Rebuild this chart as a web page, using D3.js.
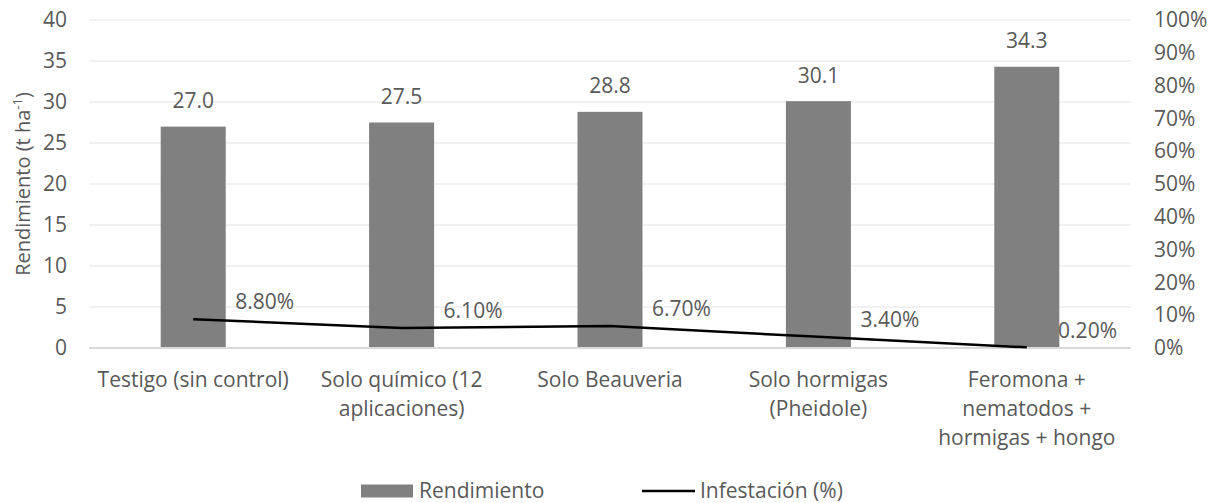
<!DOCTYPE html>
<html>
<head>
<meta charset="utf-8">
<script src="https://cdn.jsdelivr.net/npm/d3@7"></script>
<style>
  body { margin: 0; background: #fff; }
  text { font-family: "Open Sans", "Liberation Sans", sans-serif; fill: #595959; }
</style>
</head>
<body>
<svg id="main"></svg>
<script>
// data
var categories = [
  ["Testigo (sin control)"],
  ["Solo químico (12", "aplicaciones)"],
  ["Solo Beauveria"],
  ["Solo hormigas", "(Pheidole)"],
  ["Feromona +", "nematodos +", "hormigas + hongo"]
];
var rendimiento = [27.0, 27.5, 28.8, 30.1, 34.3];
var infestacion = [8.8, 6.1, 6.7, 3.4, 0.2];
var leftTicks = [0, 5, 10, 15, 20, 25, 30, 35, 40];
var rightTicks = [0, 10, 20, 30, 40, 50, 60, 70, 80, 90, 100];

var W = 1220, H = 503;
var FS = "21px";
var margin = {top: 20, right: 89, bottom: 155, left: 89},
    width = W - margin.left - margin.right,
    height = H - margin.top - margin.bottom;

var svg = d3.select("#main")
    .attr("width", W)
    .attr("height", H)
  .append("g")
    .attr("transform", "translate(" + margin.left + "," + margin.top + ")");

var x = d3.scaleBand()
    .domain(d3.range(categories.length))
    .range([0, width])
    .paddingInner(0.688)
    .paddingOuter(0.344);

var y = d3.scaleLinear().domain([0, 40]).range([height, 0]);
var y2 = d3.scaleLinear().domain([0, 100]).range([height, 0]);

// grid
svg.append("g")
  .selectAll("line")
  .data(leftTicks.filter(function(d) { return d > 0; }))
  .enter().append("line")
    .attr("x1", 0).attr("x2", width)
    .attr("y1", function(d) { return y(d); })
    .attr("y2", function(d) { return y(d); })
    .attr("stroke", "#ededed")
    .attr("stroke-width", 1.5);

// left axis
var yAxis = svg.append("g")
    .call(d3.axisLeft(y).tickValues(leftTicks).tickSize(0).tickPadding(22));
yAxis.select(".domain").remove();
yAxis.selectAll("text").style("font-size", FS).attr("fill", "#595959");

// right axis
var yAxisR = svg.append("g")
    .attr("transform", "translate(" + width + ",0)")
    .call(d3.axisRight(y2).tickValues(rightTicks).tickSize(0).tickPadding(23)
      .tickFormat(function(d) { return d + "%"; }));
yAxisR.select(".domain").remove();
yAxisR.selectAll("text").style("font-size", FS).attr("fill", "#595959");

// bars
svg.append("g")
  .selectAll("rect")
  .data(rendimiento)
  .enter().append("rect")
    .attr("x", function(d, i) { return x(i); })
    .attr("y", function(d) { return y(d); })
    .attr("width", x.bandwidth())
    .attr("height", function(d) { return height - y(d); })
    .attr("fill", "#808080");

// bar labels
svg.append("g")
  .selectAll("text")
  .data(rendimiento)
  .enter().append("text")
    .attr("x", function(d, i) { return x(i) + x.bandwidth() / 2; })
    .attr("y", function(d) { return y(d) - 26; })
    .attr("dy", "0.35em")
    .attr("text-anchor", "middle")
    .style("font-size", FS)
    .text(function(d) { return d.toFixed(1); });

// x axis line
svg.append("line")
    .attr("x1", 0).attr("x2", width)
    .attr("y1", height).attr("y2", height)
    .attr("stroke", "#d9d9d9")
    .attr("stroke-width", 2);

// category labels
var cx = function(i) { return x(i) + x.bandwidth() / 2; };
categories.forEach(function(lines, i) {
  var t = svg.append("text")
      .attr("x", cx(i))
      .attr("y", height + 32)
      .attr("text-anchor", "middle")
      .style("font-size", FS);
  lines.forEach(function(l, j) {
    t.append("tspan")
      .attr("x", cx(i))
      .attr("dy", j === 0 ? "0.35em" : 29)
      .text(l);
  });
});

// infestation line
var line = d3.line()
    .x(function(d, i) { return cx(i); })
    .y(function(d) { return y2(d); });
svg.append("path")
    .datum(infestacion)
    .attr("d", line)
    .attr("fill", "none")
    .attr("stroke", "#000")
    .attr("stroke-width", 2.5)
    .attr("stroke-linejoin", "round");

// labels sit right of the point, kept inside the plot like excel does
svg.append("g")
  .selectAll("text")
  .data(infestacion)
  .enter().append("text")
    .attr("y", function(d) { return y2(d) - 17; })
    .attr("dy", "0.35em")
    .style("font-size", FS)
    .text(function(d) { return d.toFixed(2) + "%"; })
    .attr("x", function(d, i) {
      var w = this.getComputedTextLength();
      return Math.min(cx(i) + 42, width - 14 - w);
    });

// y axis title
var title = svg.append("text")
    .attr("transform", "translate(" + (23 - margin.left) + "," + (height / 2) + ") rotate(-90)")
    .attr("text-anchor", "middle")
    .attr("dy", "0.35em")
    .style("font-size", "20px");
title.append("tspan").text("Rendimiento (t ha");
title.append("tspan").attr("dy", -8).style("font-size", "13px").text("-1");
title.append("tspan").attr("dy", 8).text(")");

// legend
var lg = svg.append("g").attr("transform", "translate(" + (361 - margin.left) + "," + (491 - margin.top) + ")");
lg.append("rect").attr("x", 0).attr("y", -6.5).attr("width", 52).attr("height", 13).attr("fill", "#808080");
lg.append("text").attr("x", 58).attr("y", 0).attr("dy", "0.35em").style("font-size", FS).text("Rendimiento");
lg.append("line").attr("x1", 281).attr("x2", 334).attr("y1", 0).attr("y2", 0)
    .attr("stroke", "#000").attr("stroke-width", 2.5);
lg.append("text").attr("x", 339).attr("y", 0).attr("dy", "0.35em").style("font-size", FS).text("Infestación (%)");
</script>
</body>
</html>
